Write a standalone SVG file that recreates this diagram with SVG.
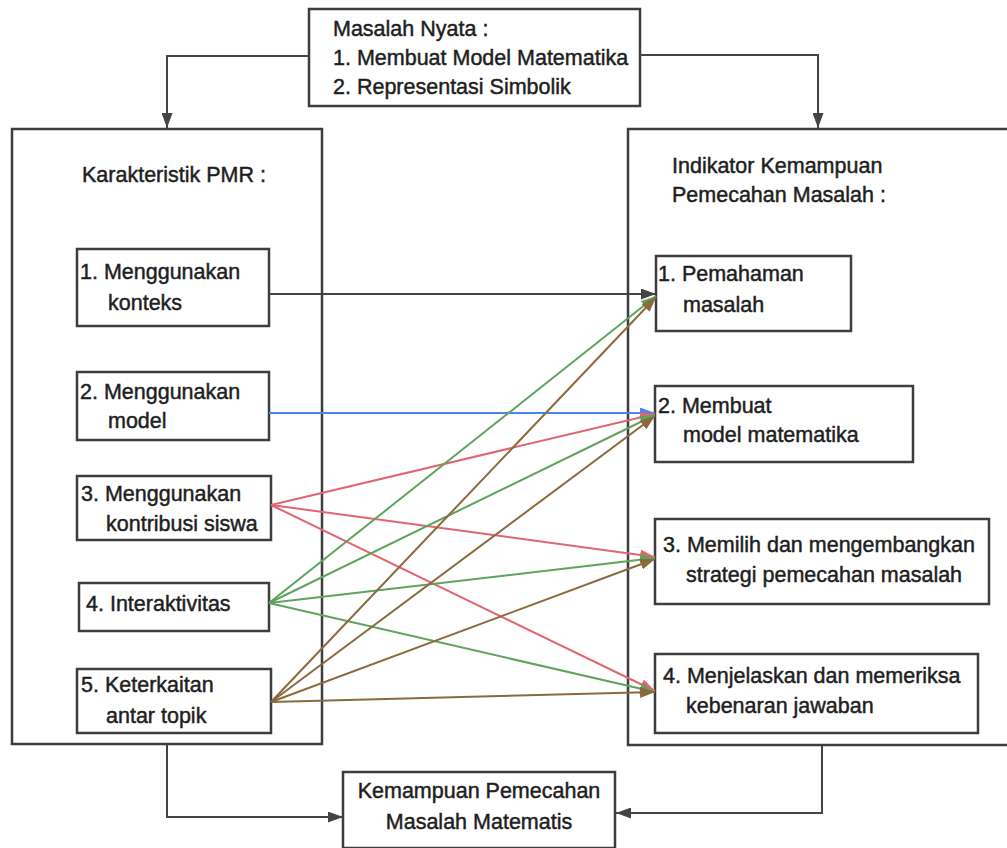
<svg xmlns="http://www.w3.org/2000/svg" width="1007" height="848" viewBox="0 0 1007 848">
<style>
.box{fill:#fff;stroke:#3d3d3d;stroke-width:2.5}
.frame{fill:none;stroke:#3d3d3d;stroke-width:2.5}
.t{font-family:"Liberation Sans",Arial,sans-serif;font-size:21.5px;fill:#1e1e1e;stroke:#1e1e1e;stroke-width:0.45}
.c{fill:none;stroke-width:2}
.k{stroke:#444}
.b{stroke:#4a86e8}
.r{stroke:#e06670}
.g{stroke:#5ea35e}
.n{stroke:#8a6a3c}
</style>
<defs>
<marker id="ak" markerUnits="userSpaceOnUse" markerWidth="15" markerHeight="11" refX="15" refY="5.5" orient="auto"><path d="M0,0 L15,5.5 L0,11 z" fill="#444"/></marker>
<marker id="ab" markerUnits="userSpaceOnUse" markerWidth="15" markerHeight="11" refX="15" refY="5.5" orient="auto"><path d="M0,0 L15,5.5 L0,11 z" fill="#4a86e8"/></marker>
<marker id="ar" markerUnits="userSpaceOnUse" markerWidth="15" markerHeight="11" refX="15" refY="5.5" orient="auto"><path d="M0,0 L15,5.5 L0,11 z" fill="#e06670"/></marker>
<marker id="ag" markerUnits="userSpaceOnUse" markerWidth="15" markerHeight="11" refX="15" refY="5.5" orient="auto"><path d="M0,0 L15,5.5 L0,11 z" fill="#5ea35e"/></marker>
<marker id="an" markerUnits="userSpaceOnUse" markerWidth="15" markerHeight="11" refX="15" refY="5.5" orient="auto"><path d="M0,0 L15,5.5 L0,11 z" fill="#8a6a3c"/></marker>
</defs>
<rect width="1007" height="848" fill="#fff"/>

<g id="left-panel">
<rect class="frame" x="12" y="129" width="310" height="615"/>
<text class="t" x="82" y="182">Karakteristik PMR :</text>
</g>
<g id="right-panel">
<rect class="frame" x="628" y="129" width="400" height="616"/>
<text class="t" x="672" y="173">Indikator Kemampuan</text>
<text class="t" x="672" y="202">Pemecahan Masalah :</text>
</g>

<g id="top">
<rect class="box" x="309" y="9" width="331" height="97"/>
<text class="t" x="333" y="36">Masalah Nyata :</text>
<text class="t" x="333" y="65">1. Membuat Model Matematika</text>
<text class="t" x="333" y="94">2. Representasi Simbolik</text>
</g>

<g id="bottom">
<rect class="box" x="343" y="772" width="272" height="76"/>
<text class="t" x="479" y="798" text-anchor="middle">Kemampuan Pemecahan</text>
<text class="t" x="479" y="829" text-anchor="middle">Masalah Matematis</text>
</g>

<g id="L1"><rect class="box" x="77" y="249" width="192" height="77"/>
<text class="t" x="80" y="279">1. Menggunakan</text><text class="t" x="108" y="310">konteks</text></g>
<g id="L2"><rect class="box" x="77" y="372" width="192" height="68"/>
<text class="t" x="80" y="399">2. Menggunakan</text><text class="t" x="108" y="428">model</text></g>
<g id="L3"><rect class="box" x="77" y="476" width="194" height="64"/>
<text class="t" x="81" y="501">3. Menggunakan</text><text class="t" x="106" y="531">kontribusi siswa</text></g>
<g id="L4"><rect class="box" x="79" y="583" width="190" height="48"/>
<text class="t" x="86" y="611">4. Interaktivitas</text></g>
<g id="L5"><rect class="box" x="77" y="669" width="194" height="64"/>
<text class="t" x="81" y="692">5. Keterkaitan</text><text class="t" x="106" y="723">antar topik</text></g>

<g id="R1"><rect class="box" x="656" y="256" width="195" height="75"/>
<text class="t" x="658" y="281">1. Pemahaman</text><text class="t" x="683" y="312">masalah</text></g>
<g id="R2"><rect class="box" x="655" y="386" width="258" height="76"/>
<text class="t" x="658" y="413">2. Membuat</text><text class="t" x="683" y="442">model matematika</text></g>
<g id="R3"><rect class="box" x="655" y="519" width="334" height="85"/>
<text class="t" x="663" y="552">3. Memilih dan mengembangkan</text><text class="t" x="686" y="582">strategi pemecahan masalah</text></g>
<g id="R4"><rect class="box" x="655" y="654" width="323" height="79"/>
<text class="t" x="663" y="683">4. Menjelaskan dan memeriksa</text><text class="t" x="686" y="713">kebenaran jawaban</text></g>

<g id="connectors">
<path class="c k" d="M309,56 H167 V128" marker-end="url(#ak)"/>
<path class="c k" d="M640,55 H818 V128" marker-end="url(#ak)"/>
<path class="c k" d="M167,744 V817 H343" marker-end="url(#ak)"/>
<path class="c k" d="M822,746 V813 H616" marker-end="url(#ak)"/>
<path class="c k" d="M269,294 H656" marker-end="url(#ak)"/>
<path class="c b" d="M269,413 H655" marker-end="url(#ab)"/>
<path class="c r" d="M271,505 L655,414" marker-end="url(#ar)"/>
<path class="c r" d="M271,505 L655,557" marker-end="url(#ar)"/>
<path class="c r" d="M271,505 L655,691" marker-end="url(#ar)"/>
<path class="c g" d="M269,603 L656,296" marker-end="url(#ag)"/>
<path class="c g" d="M269,603 L655,415" marker-end="url(#ag)"/>
<path class="c g" d="M269,603 L655,558" marker-end="url(#ag)"/>
<path class="c g" d="M269,603 L655,692" marker-end="url(#ag)"/>
<path class="c n" d="M271,702 L656,297" marker-end="url(#an)"/>
<path class="c n" d="M271,702 L655,416" marker-end="url(#an)"/>
<path class="c n" d="M271,702 L655,559" marker-end="url(#an)"/>
<path class="c n" d="M271,702 L655,692" marker-end="url(#an)"/>
</g>
</svg>
